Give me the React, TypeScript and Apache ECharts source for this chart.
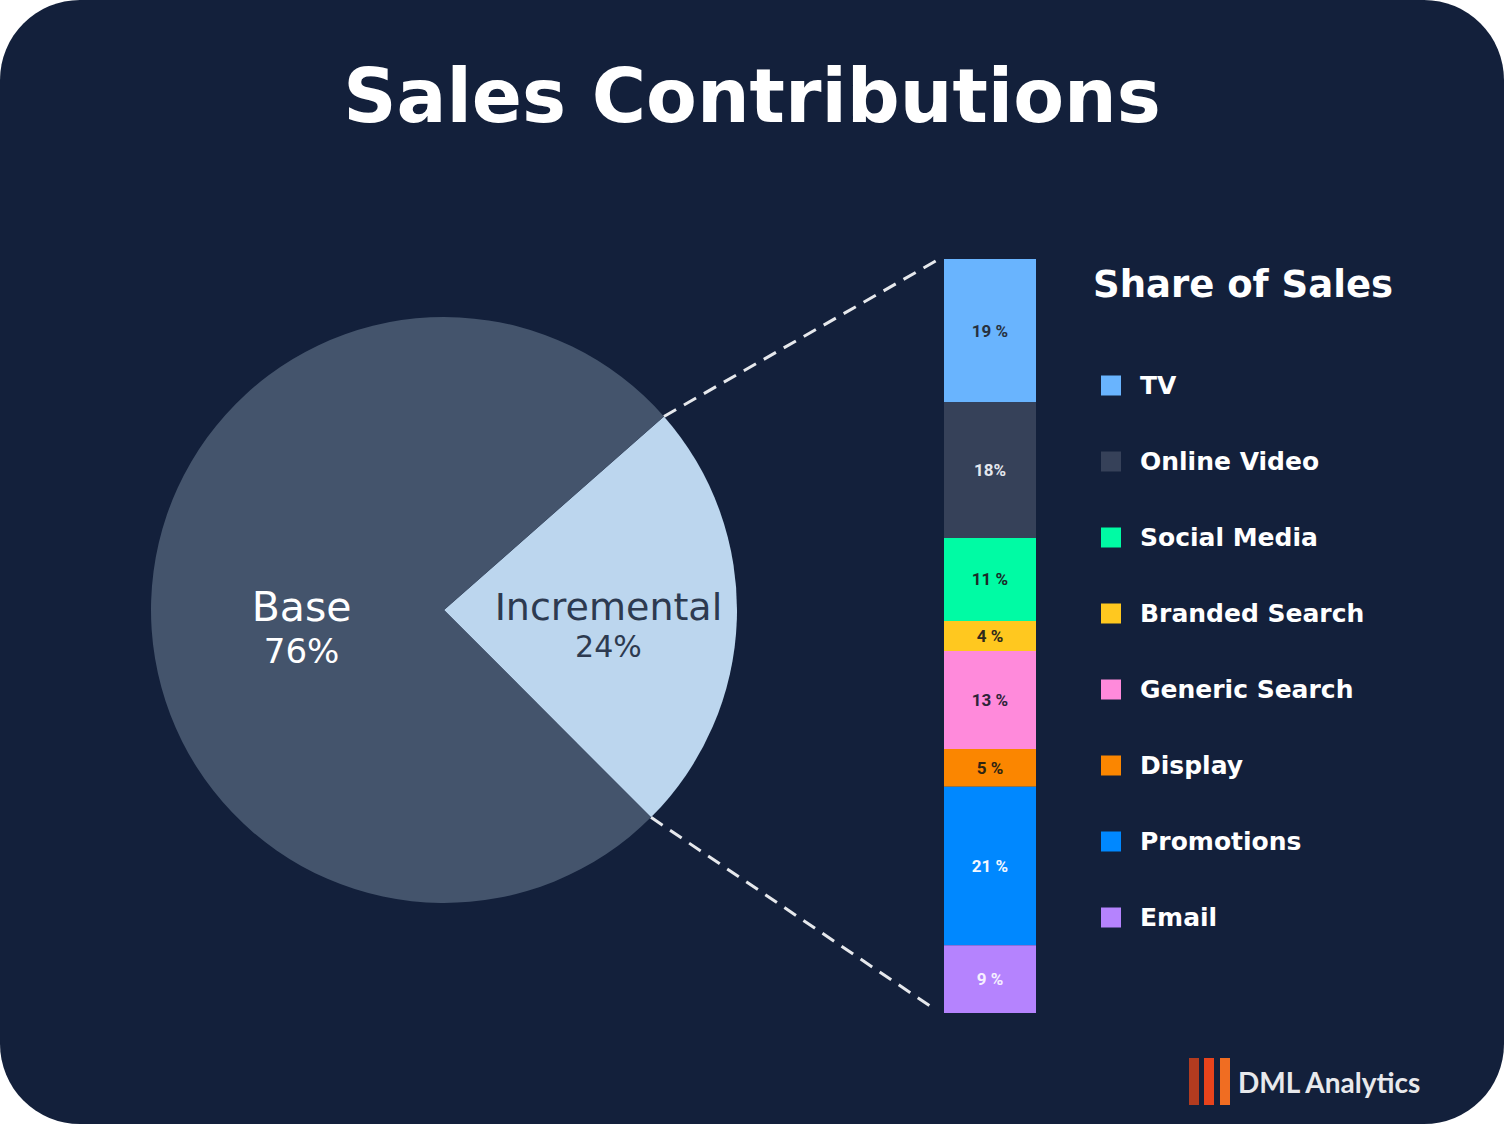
import React, { useEffect, useRef } from "react";
import * as echarts from "echarts";

// Overall split of sales
const splitNames = ["Incremental", "Base"];
const splitValues = [24, 76];
const splitColors = ["#bcd6ee", "#44546c"];
const splitLabelColors = ["#2d3a50", "#ffffff"];

// Breakdown of the incremental share by channel
const channels = [
  "TV",
  "Online Video",
  "Social Media",
  "Branded Search",
  "Generic Search",
  "Display",
  "Promotions",
  "Email",
];
const channelShares = [19, 18, 11, 4, 13, 5, 21, 9];
const channelSuffix = [" %", "%", " %", " %", " %", " %", " %", " %"];
const channelColors = [
  "#69b4fe",
  "#364159",
  "#00fba4",
  "#ffc81f",
  "#ff8adb",
  "#fb8600",
  "#0088ff",
  "#b583fe",
];
const channelLabelColors = [
  "#27313f",
  "#e4e7ee",
  "#1b2a28",
  "#2e2a1c",
  "#2e2438",
  "#2e2412",
  "#f2f7ff",
  "#f6efff",
];

const W = 1504;
const H = 1124;
const BG = "#13203b";

// Layout
const pieCenter = [444, 610];
const pieRadius = 293;
const pieStart = 41.35;
const bar = { left: 944, top: 259, width: 92, height: 754 };

// Per-slice label styling: [name size, value size, line height, padding]
const sliceLabelStyle = [
  { n: 38, v: 30, lh: 39, pad: [24, 0, 0, 30] },
  { n: 41, v: 34, lh: 44, pad: [48, 0, 0, 14] },
];

export default function App() {
  const ref = useRef<HTMLDivElement>(null);

  useEffect(() => {
    if (!ref.current) return;
    const chart = echarts.init(ref.current, undefined, { renderer: "svg" });

    // Edges of the incremental slice, for the connector lines
    const total = splitValues.reduce((a, b) => a + b, 0);
    const a1 = (pieStart * Math.PI) / 180;
    const a2 = ((pieStart - (splitValues[0] / total) * 360) * Math.PI) / 180;
    const p1 = [pieCenter[0] + pieRadius * Math.cos(a1), pieCenter[1] - pieRadius * Math.sin(a1)];
    const p2 = [pieCenter[0] + pieRadius * Math.cos(a2), pieCenter[1] - pieRadius * Math.sin(a2)];
    const lineStyle = { stroke: "#e6e8ec", lineWidth: 3, lineDash: [14, 9] };

    const barSeries = channels.map((name, i) => ({
      name,
      type: "bar",
      stack: "share",
      barWidth: "100%",
      data: [channelShares[i]],
      itemStyle: { color: channelColors[i] },
      label: {
        show: true,
        position: "inside",
        formatter: (p: any) => `${p.value}${channelSuffix[i]}`,
        color: channelLabelColors[i],
        fontFamily: "Roboto",
        fontWeight: "bold",
        fontSize: 17,
      },
      emphasis: { disabled: true },
    }));

    chart.setOption({
      animation: false,
      backgroundColor: "transparent",
      title: [
        {
          text: "Sales Contributions",
          left: "center",
          top: 54,
          textStyle: {
            color: "#ffffff",
            fontFamily: "DejaVu Sans",
            fontWeight: "bold",
            fontSize: 74,
          },
        },
        {
          text: "Share of Sales",
          left: 1088,
          top: 261,
          textStyle: {
            color: "#ffffff",
            fontFamily: "DejaVu Sans",
            fontWeight: "bold",
            fontSize: 37,
          },
        },
      ],
      legend: {
        data: channels,
        orient: "vertical",
        left: 1101,
        top: 373,
        padding: 0,
        itemWidth: 20,
        itemHeight: 20,
        itemGap: 51,
        icon: "rect",
        selectedMode: false,
        textStyle: {
          color: "#ffffff",
          fontFamily: "DejaVu Sans",
          fontWeight: "bold",
          fontSize: 25,
          lineHeight: 25,
          padding: [0, 0, 0, 14],
        },
      },
      grid: {
        left: bar.left,
        top: bar.top,
        width: bar.width,
        height: bar.height,
      },
      xAxis: { type: "category", data: ["Incremental"], show: false },
      yAxis: { type: "value", min: 0, max: 100, inverse: true, show: false },
      series: [
        {
          type: "pie",
          center: pieCenter,
          radius: pieRadius,
          startAngle: pieStart,
          clockwise: true,
          silent: true,
          emphasis: { disabled: true },
          labelLine: { show: false },
          data: splitNames.map((name, i) => {
            const s = sliceLabelStyle[i];
            return {
              name,
              value: splitValues[i],
              itemStyle: { color: splitColors[i] },
              label: {
                color: splitLabelColors[i],
                padding: s.pad,
                rich: {
                  n: { fontSize: s.n, lineHeight: s.lh, fontFamily: "DejaVu Sans", color: splitLabelColors[i] },
                  v: { fontSize: s.v, lineHeight: s.lh, fontFamily: "DejaVu Sans", color: splitLabelColors[i] },
                },
              },
            };
          }),
          label: {
            show: true,
            position: "inside",
            fontFamily: "DejaVu Sans",
            formatter: (p: any) => `{n|${p.name}}\n{v|${p.value}%}`,
          },
        },
        ...barSeries,
      ],
      graphic: [
        {
          type: "line",
          shape: { x1: p1[0], y1: p1[1], x2: bar.left - 3, y2: bar.top - 1 },
          style: lineStyle,
          silent: true,
        },
        {
          type: "line",
          shape: { x1: p2[0], y1: p2[1], x2: bar.left - 14, y2: bar.top + bar.height - 7 },
          style: lineStyle,
          silent: true,
        },
        // DML Analytics mark
        {
          type: "group",
          left: 1189,
          top: 1058,
          children: [
            { type: "rect", shape: { x: 0, y: 0, width: 10, height: 47 }, style: { fill: "#b23b1f" } },
            { type: "rect", shape: { x: 15, y: 0, width: 10, height: 47 }, style: { fill: "#e8431c" } },
            { type: "rect", shape: { x: 31, y: 0, width: 10, height: 47 }, style: { fill: "#f06d22" } },
            {
              type: "text",
              x: 49,
              y: 24,
              style: {
                text: "DML Analytics",
                fill: "#e8e9ec",
                fontFamily: "Lato",
                fontWeight: "bold",
                fontSize: 28,
                verticalAlign: "middle",
              },
            },
          ],
        },
      ],
    });

    return () => chart.dispose();
  }, []);

  return (
    <div
      style={{
        position: "fixed",
        left: 0,
        top: 0,
        width: W,
        height: H,
        background: "#ffffff",
      }}
    >
      <div
        ref={ref}
        style={{
          width: W,
          height: H,
          background: BG,
          borderRadius: 80,
          overflow: "hidden",
        }}
      />
    </div>
  );
}
